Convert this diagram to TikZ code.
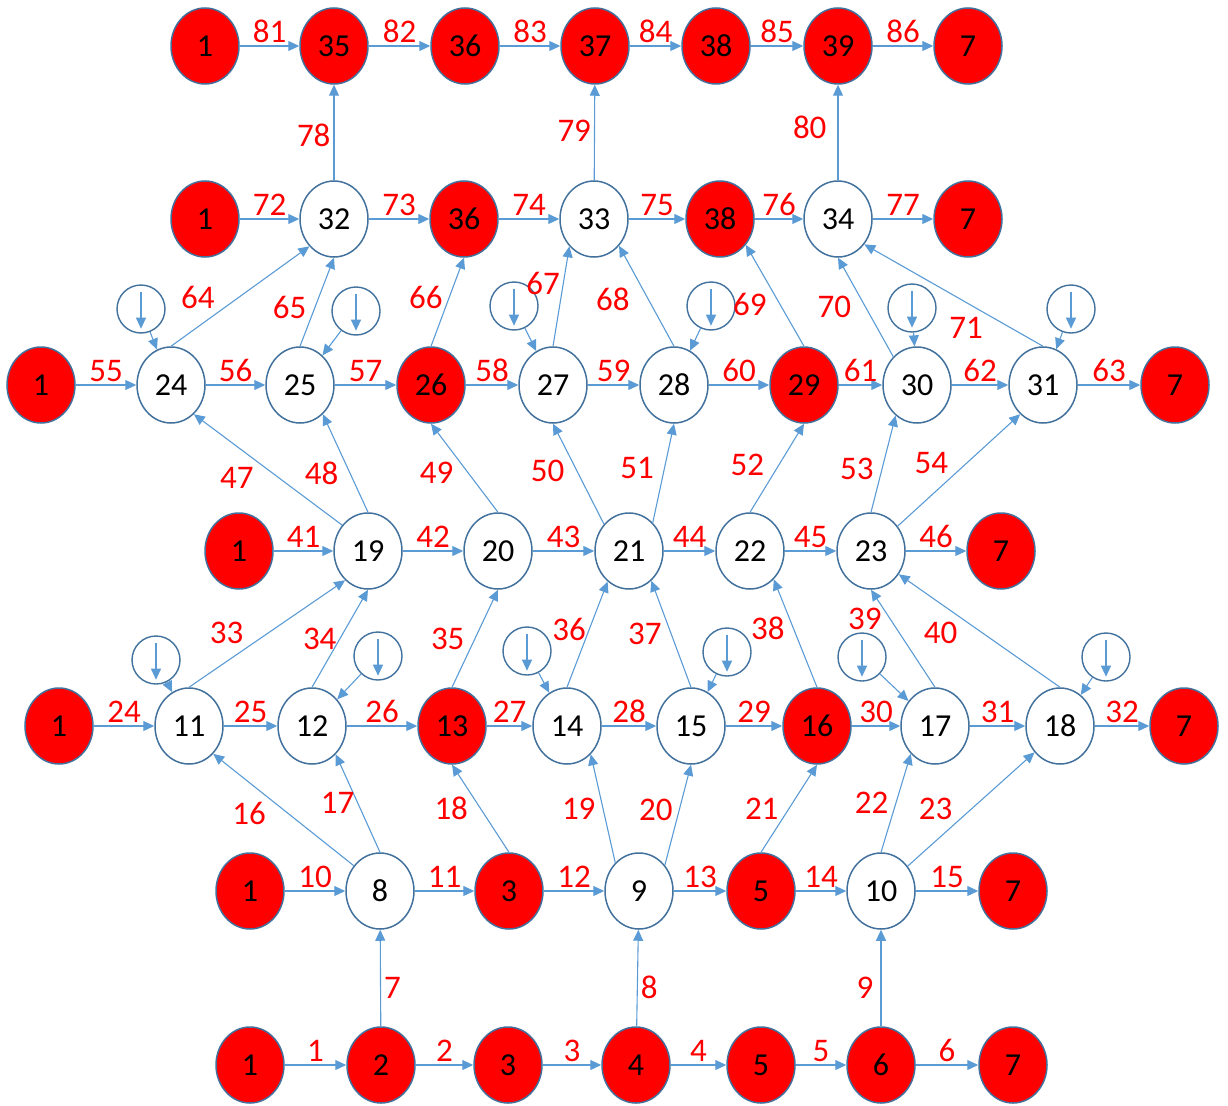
\documentclass[tikz,border=0pt]{standalone}
\usepackage{fontspec}
\setmainfont{Carlito}
\usepackage{tikz}
\usetikzlibrary{arrows.meta, shapes}
\definecolor{lineblue}{HTML}{5B9BD5}
\definecolor{rimblue}{HTML}{41719C}

\begin{document}
\begin{tikzpicture}[x=1pt, y=-1pt, >={Triangle[length=11pt,width=10pt]},
        vnode/.style={ellipse, draw=rimblue, line width=1.5pt, fill=white, minimum width=68pt, minimum height=76pt, inner sep=0pt, font=\fontsize{32}{33}\selectfont},
        rnode/.style={vnode, fill=red},
        inj/.style={ellipse, draw=rimblue, line width=1.4pt, minimum width=48pt, minimum height=48pt, inner sep=0pt},
        link/.style={->, draw=lineblue, line width=1.1pt},
        lbl/.style={text=red, inner sep=3pt, font=\fontsize{33}{34}\selectfont}
        ]
        \useasboundingbox (0,0) rectangle (1228,1105);

        % Nodes, top row
        \node [rnode] (s1) at (205,46) {1};
        \node [rnode] (n35) at (334,46) {35};
        \node [rnode] (m36) at (465,46) {36};
        \node [rnode] (n37) at (595,46) {37};
        \node [rnode] (m38) at (716,46) {38};
        \node [rnode] (n39) at (838,46) {39};
        \node [rnode] (t1) at (968,46) {7};

        \node [rnode] (s2) at (205,219) {1};
        \node [vnode] (n32) at (334,219) {32};
        \node [rnode] (n36) at (464,219) {36};
        \node [vnode] (n33) at (594,219) {33};
        \node [rnode] (n38) at (720,219) {38};
        \node [vnode] (n34) at (838,219) {34};
        \node [rnode] (t2) at (968,219) {7};

        \node [rnode] (s3) at (41,385) {1};
        \node [vnode] (n24) at (171,385) {24};
        \node [vnode] (n25) at (300,385) {25};
        \node [rnode] (n26) at (431,385) {26};
        \node [vnode] (n27) at (553,385) {27};
        \node [vnode] (n28) at (674,385) {28};
        \node [rnode] (n29) at (804,385) {29};
        \node [vnode] (n30) at (917,385) {30};
        \node [vnode] (n31) at (1043,385) {31};
        \node [rnode] (t3) at (1175,385) {7};

        \node [rnode] (s4) at (239,551) {1};
        \node [vnode] (n19) at (368,551) {19};
        \node [vnode] (n20) at (498,551) {20};
        \node [vnode] (n21) at (629,551) {21};
        \node [vnode] (n22) at (750,551) {22};
        \node [vnode] (n23) at (871,551) {23};
        \node [rnode] (t4) at (1001,551) {7};

        \node [rnode] (s5) at (59,726) {1};
        \node [vnode] (n11) at (189,726) {11};
        \node [vnode] (n12) at (312,726) {12};
        \node [rnode] (n13) at (452,726) {13};
        \node [vnode] (n14) at (567,726) {14};
        \node [vnode] (n15) at (691,726) {15};
        \node [rnode] (n16) at (817,726) {16};
        \node [vnode] (n17) at (935,726) {17};
        \node [vnode] (n18) at (1060,726) {18};
        \node [rnode] (t5) at (1184,726) {7};

        \node [rnode] (s6) at (250,891) {1};
        \node [vnode] (n8) at (380,891) {8};
        \node [rnode] (m3) at (509,891) {3};
        \node [vnode] (n9) at (639,891) {9};
        \node [rnode] (m5) at (761,891) {5};
        \node [vnode] (n10) at (881,891) {10};
        \node [rnode] (t6) at (1013,891) {7};

        \node [rnode] (s7) at (250,1065) {1};
        \node [rnode] (n2) at (381,1065) {2};
        \node [rnode] (n3) at (508,1065) {3};
        \node [rnode] (n4) at (636,1065) {4};
        \node [rnode] (n5) at (761,1065) {5};
        \node [rnode] (n6) at (881,1065) {6};
        \node [rnode] (t7) at (1013,1065) {7};

        % Injection circles
        \node [inj] (c24) at (141,309) {};
        \node [inj] (c25) at (356,311) {};
        \node [inj] (c27) at (514,306) {};
        \node [inj] (c28) at (711,306) {};
        \node [inj] (c30) at (912,308) {};
        \node [inj] (c31) at (1071,309) {};
        \node [inj] (c11) at (156,660) {};
        \node [inj] (c12) at (378,656) {};
        \node [inj] (c14) at (527,651) {};
        \node [inj] (c15) at (727,652) {};
        \node [inj] (c17) at (862,657) {};
        \node [inj] (c18) at (1106,657) {};
        \foreach \k in {11,12,14,15,17,18,24,25,27,28,30,31} {
            \draw[link] ([yshift=-8pt]c\k.north) -- ([yshift=5pt]c\k.south);
            \draw[link] (c\k) -- (n\k);
        }

        % Edges, bottom row
        \draw[link] (s7) -- node[lbl, above] {1} (n2);
        \draw[link] (n2) -- node[lbl, above] {2} (n3);
        \draw[link] (n3) -- node[lbl, above] {3} (n4);
        \draw[link] (n4) -- node[lbl, above] {4} (n5);
        \draw[link] (n5) -- node[lbl, above] {5} (n6);
        \draw[link] (n6) -- node[lbl, above] {6} (t7);
        \draw[link] (n2) -- node[lbl, right, pos=.4] {7} (n8);
        \draw[link] (n4) -- node[lbl, right, pos=.4] {8} (n9);
        \draw[link] (n6) -- node[lbl, left=4pt, pos=.4] {9} (n10);

        \draw[link] (s6) -- node[lbl, above] {10} (n8);
        \draw[link] (n8) -- node[lbl, above] {11} (m3);
        \draw[link] (m3) -- node[lbl, above] {12} (n9);
        \draw[link] (n9) -- node[lbl, above] {13} (m5);
        \draw[link] (m5) -- node[lbl, above] {14} (n10);
        \draw[link] (n10) -- node[lbl, above] {15} (t6);
        \draw[link] (n8.136) -- node[lbl, below left, pos=.6] {16} (n11.-49);
        \draw[link] (n8.north) -- node[lbl, left] {17} (n12.-50);
        \draw[link] (m3.north) -- node[lbl, left=9pt] {18} (n13.south);
        \draw[link] (n9.130) -- node[lbl, left=4pt] {19} (n14.-50);
        \draw[link] (n9.45) -- node[lbl, left=3pt, pos=.55] {20} (n15.south);
        \draw[link] (m5.north) -- node[lbl, left=7pt] {21} (n16.south);
        \draw[link] (n10.north) -- node[lbl, left=4pt] {22} (n17.-131);
        \draw[link] (n10.43) -- node[lbl, above left, pos=.38] {23} (n18.-134);

        \draw[link] (s5) -- node[lbl, above] {24} (n11);
        \draw[link] (n11) -- node[lbl, above] {25} (n12);
        \draw[link] (n12) -- node[lbl, above] {26} (n13);
        \draw[link] (n13) -- node[lbl, above] {27} (n14);
        \draw[link] (n14) -- node[lbl, above] {28} (n15);
        \draw[link] (n15) -- node[lbl, above] {29} (n16);
        \draw[link] (n16) -- node[lbl, above] {30} (n17);
        \draw[link] (n17) -- node[lbl, above] {31} (n18);
        \draw[link] (n18) -- node[lbl, above] {32} (t5);
        \draw[link] (n11.north) -- node[lbl, above left, pos=.37] {33} (n19.-128);
        \draw[link] (n12.north) -- node[lbl, left] {34} (n19.south);
        \draw[link] (n13.north) -- node[lbl, left=7pt] {35} (n20.south);
        \draw[link] (n14.north) -- node[lbl, left, pos=.55] {36} (n21.-125);
        \draw[link] (n15.north) -- node[lbl, left=6pt] {37} (n21.-53);
        \draw[link] (n16.north) -- node[lbl, left=5pt, pos=.55] {38} (n22.-50);
        \draw[link] (n17.north) -- node[lbl, left=5pt, pos=.7] {39} (n23.south);
        \draw[link] (n18.north) -- node[lbl, below=15pt, pos=.74] {40} (n23.-40);

        \draw[link] (s4) -- node[lbl, above] {41} (n19);
        \draw[link] (n19) -- node[lbl, above] {42} (n20);
        \draw[link] (n20) -- node[lbl, above] {43} (n21);
        \draw[link] (n21) -- node[lbl, above] {44} (n22);
        \draw[link] (n22) -- node[lbl, above] {45} (n23);
        \draw[link] (n23) -- node[lbl, above] {46} (t4);
        \draw[link] (n19.135) -- node[lbl, below=17pt, pos=.71] {47} (n24.-52);
        \draw[link] (n19.north) -- node[lbl, left=8pt, pos=.4] {48} (n25.-52);
        \draw[link] (n20.north) -- node[lbl, left=11pt, pos=.45] {49} (n26.south);
        \draw[link] (n21.133) -- node[lbl, left=9pt, pos=.53] {50} (n27.south);
        \draw[link] (n21.50) -- node[lbl, left=7pt, pos=.55] {51} (n28.south);
        \draw[link] (n22.north) -- node[lbl, left=11pt, pos=.53] {52} (n29.south);
        \draw[link] (n23.north) -- node[lbl, left=5pt, pos=.45] {53} (n30.-125);
        \draw[link] (n23.43) -- node[lbl, above left, pos=.44] {54} (n31.-128);

        \draw[link] (s3) -- node[lbl, above] {55} (n24);
        \draw[link] (n24) -- node[lbl, above] {56} (n25);
        \draw[link] (n25) -- node[lbl, above] {57} (n26);
        \draw[link] (n26) -- node[lbl, above] {58} (n27);
        \draw[link] (n27) -- node[lbl, above] {59} (n28);
        \draw[link] (n28) -- node[lbl, above] {60} (n29);
        \draw[link] (n29) -- node[lbl, above] {61} (n30);
        \draw[link] (n30) -- node[lbl, above] {62} (n31);
        \draw[link] (n31) -- node[lbl, above] {63} (t3);
        \draw[link] (n24.north) -- node[lbl, above left, pos=.34] {64} (n32.-132);
        \draw[link] (n25.north) -- node[lbl, left=5pt, pos=.44] {65} (n32.south);
        \draw[link] (n26.north) -- node[lbl, left=3pt, pos=.55] {66} (n36.south);
        \draw[link] (n27.north) -- node[lbl, left, pos=.63] {67} (n33.-132);
        \draw[link] (n28.north) -- node[lbl, left=15pt, pos=.47] {68} (n33.-47);
        \draw[link] (n29.north) -- node[lbl, left=10pt, pos=.41] {69} (n38.-45);
        \draw[link] (n30.130) -- node[lbl, left=11pt] {70} (n34.south);
        \draw[link] (n31.north) -- node[lbl, below=11pt, pos=.43] {71} (n34.-44);

        \draw[link] (s2) -- node[lbl, above] {72} (n32);
        \draw[link] (n32) -- node[lbl, above] {73} (n36);
        \draw[link] (n36) -- node[lbl, above] {74} (n33);
        \draw[link] (n33) -- node[lbl, above] {75} (n38);
        \draw[link] (n38) -- node[lbl, above] {76} (n34);
        \draw[link] (n34) -- node[lbl, above] {77} (t2);
        \draw[link] (n32) -- node[lbl, left, pos=.47] {78} (n35);
        \draw[link] (n33) -- node[lbl, left, pos=.52] {79} (n37);
        \draw[link] (n34) -- node[lbl, left=8pt, pos=.55] {80} (n39);

        \draw[link] (s1) -- node[lbl, above] {81} (n35);
        \draw[link] (n35) -- node[lbl, above] {82} (m36);
        \draw[link] (m36) -- node[lbl, above] {83} (n37);
        \draw[link] (n37) -- node[lbl, above] {84} (m38);
        \draw[link] (m38) -- node[lbl, above] {85} (n39);
        \draw[link] (n39) -- node[lbl, above] {86} (t1);

    \end{tikzpicture}
\end{document}
